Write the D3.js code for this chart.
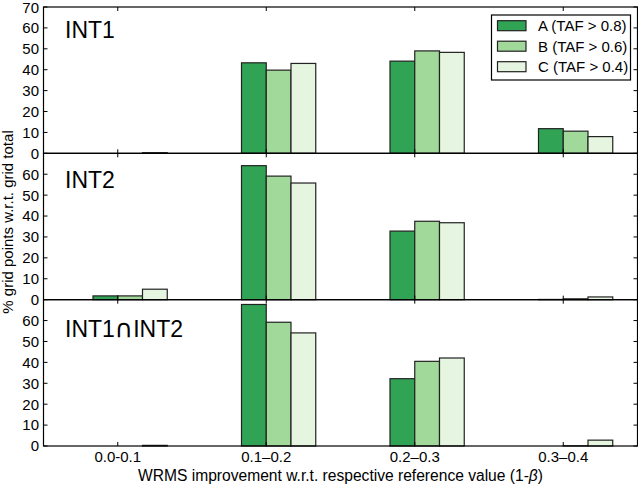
<!DOCTYPE html>
<html><head><meta charset="utf-8">
<script src="https://cdn.jsdelivr.net/npm/d3@7"></script>
<style>
body{margin:0;background:#fff;}
svg text{font-family:"Liberation Sans",Arial,Helvetica,sans-serif;fill:#000;}
</style></head>
<body><svg id="c" width="638" height="488"></svg>
<script>
const categories = ["0.0-0.1","0.1\u20130.2","0.2\u20130.3","0.3\u20130.4"];
const seriesNames = ["A (TAF > 0.8)","B (TAF > 0.6)","C (TAF > 0.4)"];
const colors = ["#31a354","#a1d99b","#e5f5e0"];
const panelNames = [["INT1"],["INT2"],["INT1","\u2229","INT2"]];
// values[panel][series][category]
const int1A = [0, 43.3, 44.1, 11.8];
const int1B = [0, 39.8, 49.0, 10.6];
const int1C = [0.3, 43.0, 48.3, 8.0];
const int2A = [1.8, 64.1, 32.8, 0.1];
const int2B = [1.8, 59.1, 37.5, 0.4];
const int2C = [5.0, 55.8, 36.8, 1.3];
const int3A = [0, 67.7, 32.2, 0];
const int3B = [0, 59.2, 40.5, 0.1];
const int3C = [0.3, 54.1, 42.1, 2.8];
const yTicksFirst = [0,10,20,30,40,50,60,70];
const yTicksOther = [0,10,20,30,40,50,60];
const panels = [[int1A,int1B,int1C],[int2A,int2B,int2C],[int3A,int3B,int3C]];

const svg = d3.select("#c");
const L = 43.5, R = 637.5;
const tops = [7, 153.33, 299.67], H = 146.33;
const x = d3.scaleLinear().domain([-0.5, 3.5]).range([L, R]);
const w = 1/6;
const tl = 4;

panels.forEach((pdata, p) => {
  const top = tops[p], bot = top + H;
  const y = d3.scaleLinear().domain([0,70]).range([bot, top]);
  const g = svg.append("g");
  pdata.forEach((vals, s) => {
    g.selectAll(null).data(vals).enter().append("rect")
      .attr("x", (d,i) => x(i + (s-1)*w))
      .attr("width", x(w) - x(0))
      .attr("y", d => y(d))
      .attr("height", d => y(0) - y(d))
      .attr("fill", colors[s])
      .attr("stroke", "#222")
      .attr("stroke-width", 1.2);
  });
  g.append("rect").attr("x", L).attr("y", top).attr("width", R-L).attr("height", H)
    .attr("fill","none").attr("stroke","#000").attr("stroke-width",1.2);
  const yt = p === 0 ? yTicksFirst : yTicksOther;
  yt.forEach(t => {
    g.append("line").attr("x1",L).attr("x2",L+tl).attr("y1",y(t)).attr("y2",y(t)).attr("stroke","#000");
    g.append("line").attr("x1",R-tl).attr("x2",R).attr("y1",y(t)).attr("y2",y(t)).attr("stroke","#000");
    g.append("text").attr("x",39).attr("y",y(t) + (t === 70 && p === 0 ? 1 : 0)).attr("dy","0.36em")
      .attr("text-anchor","end").attr("font-size",15).text(t);
  });
  categories.forEach((c,i) => {
    g.append("line").attr("x1",x(i)).attr("x2",x(i)).attr("y1",top).attr("y2",top+tl).attr("stroke","#000");
    g.append("line").attr("x1",x(i)).attr("x2",x(i)).attr("y1",bot).attr("y2",bot-tl).attr("stroke","#000");
  });
  const ty = [38.3, 187.7, 336.7][p];
  const t = g.append("text").attr("x",65).attr("y",ty).attr("font-size",23);
  panelNames[p].forEach(part => {
    const ts = t.append("tspan").text(part);
    if (part === "\u2229") ts.attr("font-size",25).attr("font-family","DejaVu Sans");
  });
});

categories.forEach((c,i) => {
  svg.append("text").attr("x",x(i)).attr("y",462).attr("text-anchor","middle").attr("font-size",15).text(c);
});

const xl = svg.append("text").attr("x",(L+R)/2).attr("y",481).attr("text-anchor","middle").attr("font-size",15.6);
xl.append("tspan").text("WRMS improvement w.r.t. respective reference value (1-");
xl.append("tspan").attr("font-style","italic").text("\u03B2");
xl.append("tspan").text(")");
svg.append("text").attr("transform","translate(13,222) rotate(-90)").attr("text-anchor","middle")
  .attr("font-size",15).text("% grid points w.r.t. grid total");

const lg = svg.append("g");
lg.append("rect").attr("x",491.5).attr("y",15).attr("width",139).attr("height",65)
  .attr("fill","#fff").attr("stroke","#000").attr("stroke-width",1.2);
seriesNames.forEach((n,s) => {
  const cy = 25.7 + s*20.5;
  lg.append("rect").attr("x",497.5).attr("y",cy-5).attr("width",28.5).attr("height",10)
    .attr("fill",colors[s]).attr("stroke","#222").attr("stroke-width",1.2);
  lg.append("text").attr("x",538).attr("y",cy).attr("dy","0.36em").attr("font-size",15).text(n);
});
</script></body></html>
